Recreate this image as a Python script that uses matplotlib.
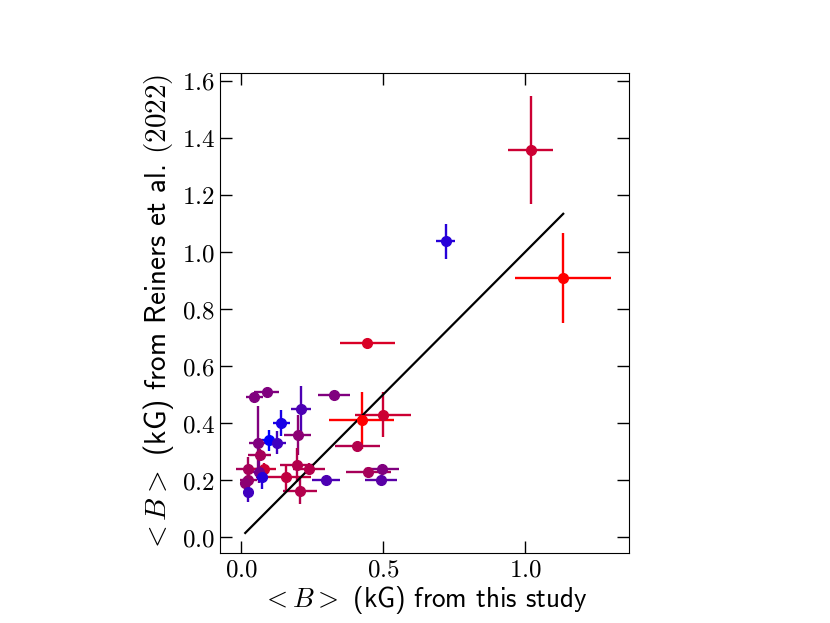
import numpy as np
import matplotlib
matplotlib.use("Agg")
import matplotlib.pyplot as plt
from matplotlib.colors import LinearSegmentedColormap

plt.rcParams['mathtext.fontset'] = 'cm'
plt.rcParams['font.family'] = ['cmss10', 'DejaVu Sans']
plt.rcParams['axes.unicode_minus'] = False

# <B> from this study (kG) and errors
b_this = [0.090, 0.047, 0.327, 0.212, 0.425, 0.500, 0.141, 0.100, 0.127, 0.200,
          0.059, 0.066, 0.026, 0.082, 0.062, 0.074, 0.025, 0.015, 0.024, 0.197,
          0.240, 0.160, 0.207, 0.300, 0.410, 0.448, 0.495, 0.493, 1.019, 0.720,
          1.134, 0.445]
b_this_err = [0.044, 0.030, 0.056, 0.035, 0.115, 0.100, 0.030, 0.026, 0.032, 0.047,
              0.032, 0.040, 0.044, 0.040, 0.030, 0.020, 0.030, 0.020, 0.015, 0.060,
              0.056, 0.085, 0.060, 0.050, 0.080, 0.080, 0.060, 0.056, 0.080, 0.032,
              0.169, 0.098]
# <B> from Reiners et al. (2022)
b_rein = [0.510, 0.490, 0.500, 0.450, 0.410, 0.430, 0.400, 0.340, 0.332, 0.360,
          0.330, 0.290, 0.240, 0.240, 0.230, 0.210, 0.200, 0.190, 0.160, 0.253,
          0.240, 0.210, 0.162, 0.200, 0.320, 0.230, 0.240, 0.200, 1.357, 1.037,
          0.909, 0.680]
b_rein_err = [0.010, 0.010, 0.010, 0.080, 0.100, 0.080, 0.045, 0.036, 0.040, 0.070,
              0.130, 0.020, 0.040, 0.020, 0.040, 0.040, 0.030, 0.020, 0.035, 0.060,
              0.020, 0.047, 0.044, 0.010, 0.010, 0.010, 0.010, 0.010, 0.190, 0.060,
              0.159, 0.010]
# colour value (0 = blue, 1 = red)
cval = [0.50, 0.50, 0.50, 0.30, 1.00, 0.80, 0.10, 0.00, 0.25, 0.55,
        0.50, 0.65, 0.65, 0.80, 0.45, 0.15, 0.60, 0.55, 0.25, 0.70,
        0.70, 0.75, 0.70, 0.30, 0.70, 0.65, 0.50, 0.35, 0.80, 0.15,
        1.00, 0.85]

cmap = LinearSegmentedColormap.from_list('br', ['blue', 'red'])

fig = plt.figure(figsize=(8.3, 6.23), dpi=100)
ax = fig.add_axes([0.265, 0.112, 0.493, 0.771])

for i in range(len(b_this)):
    ax.errorbar(b_this[i], b_rein[i], xerr=b_this_err[i], yerr=b_rein_err[i],
                fmt='o', color=cmap(cval[i]), ms=7, elinewidth=1.7, capsize=0)

xx = np.linspace(min(b_this), max(b_this), 10)
ax.plot(xx, xx, color='black', lw=1.6)

ax.set_xlim(-0.074, 1.366)
ax.set_ylim(-0.056, 1.628)
ax.set_xticks([0.0, 0.5, 1.0])
ax.set_xticklabels([r'$%.1f$' % v for v in [0.0, 0.5, 1.0]])
yt = np.arange(0, 1.61, 0.2)
ax.set_yticks(yt)
ax.set_yticklabels([r'$%.1f$' % v for v in yt])
ax.tick_params(direction='in', top=True, right=True, length=8.5, width=1.0,
               labelsize=18)
ax.set_xlabel(r'$<B>$ (kG) from this study', fontsize=19.5, labelpad=2)
ax.set_ylabel(r'$<B>$ (kG) from Reiners et al. $(2022)$', fontsize=21,
              labelpad=4)

fig.savefig('out.png', dpi=100)
